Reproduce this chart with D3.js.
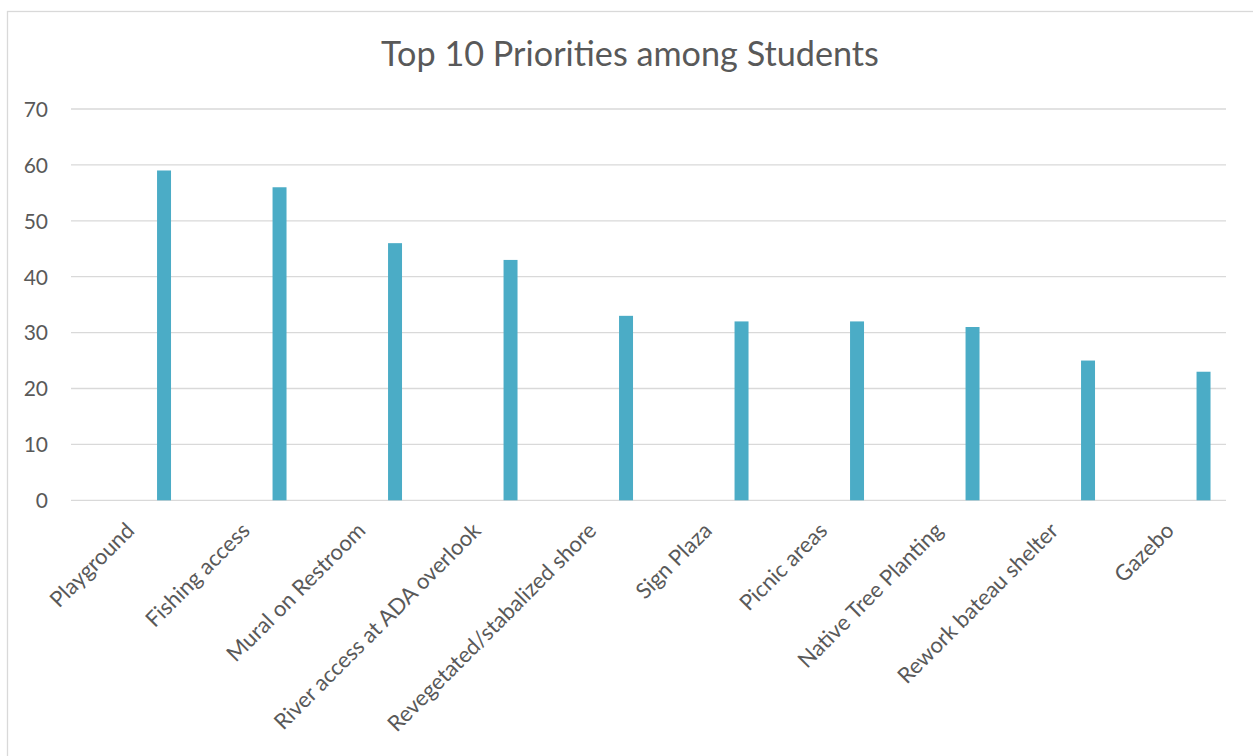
<!DOCTYPE html>
<html><head><meta charset="utf-8">
<script src="https://cdn.jsdelivr.net/npm/d3@7"></script>
<style>body{margin:0;background:#fff;} svg{display:block;}</style>
</head><body>
<svg id="c" width="1253" height="756"></svg>
<script>
const title = "Top 10 Priorities among Students";
const categories = ["Playground","Fishing access","Mural on Restroom","River access at ADA overlook","Revegetated/stabalized shore","Sign Plaza","Picnic areas","Native Tree Planting","Rework bateau shelter","Gazebo"];
const values = [59,56,46,43,33,32,32,31,25,23];
const yTicks = [0,10,20,30,40,50,60,70];

const svg = d3.select("#c");
const W = 1253, H = 756;
const m = {left:71, right:1226, top:109, bottom:500.3};
const font = "Lato, 'Open Sans', sans-serif";
const txt = "#595959";

svg.append("rect").attr("x",7.5).attr("y",11.5).attr("width",W+10).attr("height",H+10)
  .attr("fill","#fff").attr("stroke","#d9d9d9").attr("stroke-width",1.3);

const x = d3.scaleBand().domain(categories).range([m.left,m.right]).padding(0);
const y = d3.scaleLinear().domain([0,70]).range([m.bottom,m.top]);
const bw = x.bandwidth();

// gridlines
svg.append("g").selectAll("line").data(yTicks).join("line")
  .attr("x1",m.left).attr("x2",m.right).attr("y1",d=>y(d)).attr("y2",d=>y(d))
  .attr("stroke","#d9d9d9").attr("stroke-width",1.3);

// y axis labels
const yAxis = d3.axisLeft(y).tickValues(yTicks).tickSize(0).tickPadding(0);
const ya = svg.append("g").attr("transform","translate(48,0)").call(yAxis);
ya.select(".domain").remove();
ya.selectAll("text").attr("font-family",font).attr("font-size",21).attr("fill",txt).attr("dy","0.35em");

// bars
svg.append("g").selectAll("rect").data(values).join("rect")
  .attr("x",(d,i)=>x(categories[i])+bw*0.745)
  .attr("width",bw*0.121)
  .attr("y",d=>y(d)).attr("height",d=>y(0)-y(d))
  .attr("fill","#4bacc6");

// category labels
svg.append("g").selectAll("text").data(categories).join("text")
  .attr("transform",d=>`translate(${x(d)+bw/2+7},532) rotate(-45)`)
  .attr("text-anchor","end")
  .attr("font-family",font).attr("font-size",22).attr("fill",txt)
  .text(d=>d);

// title
const t = svg.append("text").attr("x",630).attr("y",66).attr("text-anchor","middle")
  .attr("font-family",font).attr("font-size",30).attr("fill",txt).text(title);
const len = t.node().getComputedTextLength();
t.attr("font-size",30*498/len);
</script>
</body></html>
